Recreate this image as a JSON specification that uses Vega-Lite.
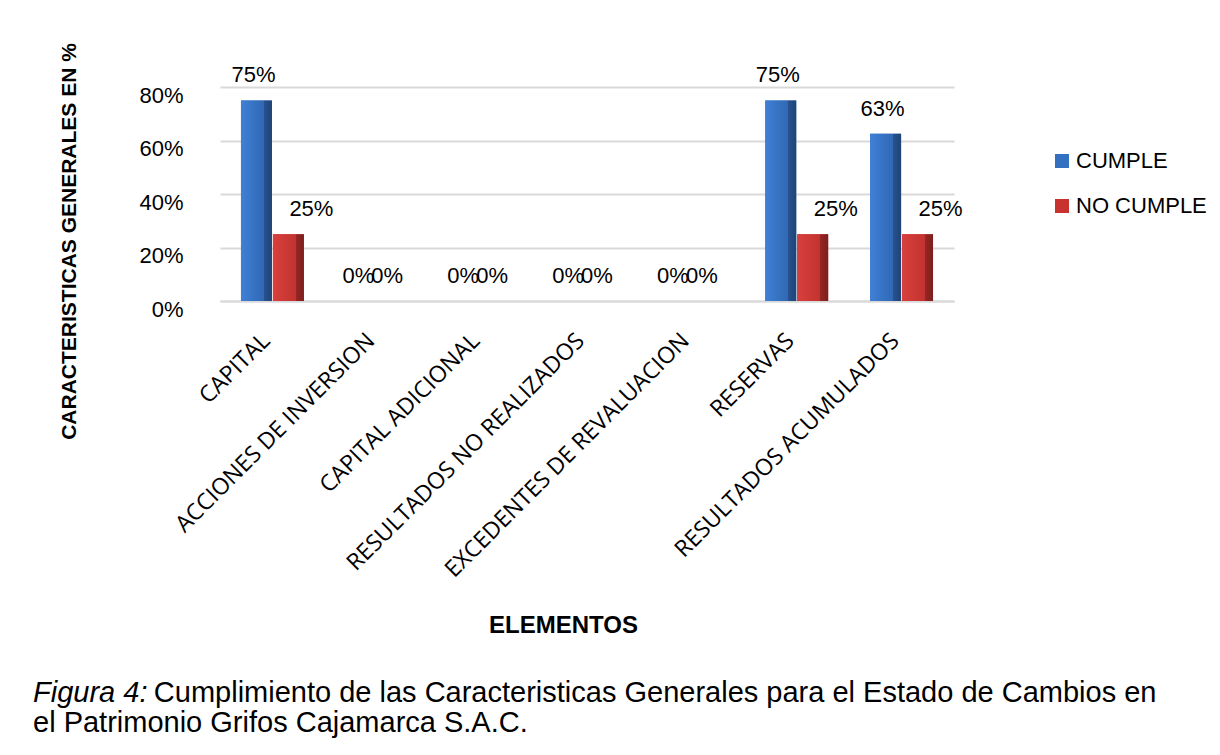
{
  "$schema": "https://vega.github.io/schema/vega-lite/v6.json",
  "width": 734,
  "height": 214,
  "background": "white",
  "autosize": {"type": "none"},
  "padding": {"left": 220, "top": 87, "right": 266, "bottom": 454},
  "data": {
    "values": [
      {"elemento": "CAPITAL", "serie": "CUMPLE", "valor": 0.75},
      {"elemento": "CAPITAL", "serie": "NO CUMPLE", "valor": 0.25},
      {"elemento": "ACCIONES DE INVERSION", "serie": "CUMPLE", "valor": 0},
      {"elemento": "ACCIONES DE INVERSION", "serie": "NO CUMPLE", "valor": 0},
      {"elemento": "CAPITAL ADICIONAL", "serie": "CUMPLE", "valor": 0},
      {"elemento": "CAPITAL ADICIONAL", "serie": "NO CUMPLE", "valor": 0},
      {"elemento": "RESULTADOS NO REALIZADOS", "serie": "CUMPLE", "valor": 0},
      {"elemento": "RESULTADOS NO REALIZADOS", "serie": "NO CUMPLE", "valor": 0},
      {"elemento": "EXCEDENTES DE REVALUACION", "serie": "CUMPLE", "valor": 0},
      {"elemento": "EXCEDENTES DE REVALUACION", "serie": "NO CUMPLE", "valor": 0},
      {"elemento": "RESERVAS", "serie": "CUMPLE", "valor": 0.75},
      {"elemento": "RESERVAS", "serie": "NO CUMPLE", "valor": 0.25},
      {"elemento": "RESULTADOS ACUMULADOS", "serie": "CUMPLE", "valor": 0.625},
      {"elemento": "RESULTADOS ACUMULADOS", "serie": "NO CUMPLE", "valor": 0.25}
    ]
  },
  "title": {
    "text": "Figura 4:",
    "subtitle": ["\u200b\u00a0\u00a0\u00a0\u00a0\u00a0\u00a0\u00a0\u00a0\u00a0\u00a0\u00a0\u00a0\u00a0\u00a0\u00a0Cumplimiento de las Caracteristicas Generales para el Estado de Cambios en", "el Patrimonio Grifos Cajamarca S.A.C."],
    "orient": "bottom",
    "anchor": "start",
    "frame": "bounds",
    "font": "Liberation Sans",
    "fontSize": 29,
    "fontStyle": "italic",
    "fontWeight": "normal",
    "color": "black",
    "subtitleFont": "Liberation Sans",
    "subtitleFontSize": 29,
    "subtitleColor": "black",
    "subtitleLineHeight": 30,
    "subtitlePadding": -29,
    "offset": 42,
    "dx": -25
  },
  "encoding": {
    "x": {
      "field": "elemento",
      "type": "nominal",
      "sort": ["CAPITAL", "ACCIONES DE INVERSION", "CAPITAL ADICIONAL", "RESULTADOS NO REALIZADOS", "EXCEDENTES DE REVALUACION", "RESERVAS", "RESULTADOS ACUMULADOS"],
      "scale": {"paddingInner": 0.4, "paddingOuter": 0.2},
      "axis": {
        "title": "ELEMENTOS",
        "titleFont": "Liberation Sans",
        "titleFontWeight": "bold",
        "titleFontSize": 24,
        "titleColor": "black",
        "titleX": 343,
        "titleY": 331,
        "titleBaseline": "alphabetic",
        "labelAngle": -45,
        "labelFont": "Open Sans",
        "labelFontSize": 23,
        "labelColor": "black",
        "labelPadding": 28,
        "labelOffset": -14,
        "ticks": false,
        "domainColor": "#d9d9d9",
        "domainWidth": 2,
        "labelLimit": 400
      }
    },
    "xOffset": {"field": "serie", "type": "nominal", "scale": {"paddingInner": 0.03}},
    "y": {
      "field": "valor",
      "type": "quantitative",
      "scale": {"domain": [0, 0.8]},
      "axis": {
        "title": "CARACTERISTICAS GENERALES EN %",
        "titleFont": "Liberation Sans",
        "titleFontWeight": "bold",
        "titleFontSize": 21,
        "titleColor": "black",
        "titleX": -145,
        "titleY": 154,
        "titleBaseline": "alphabetic",
        "values": [0, 0.2, 0.4, 0.6, 0.8],
        "format": ".0%",
        "labelFont": "Liberation Sans",
        "labelFontSize": 22,
        "labelColor": "black",
        "labelPadding": 37,
        "labelOffset": 8,
        "ticks": false,
        "domain": false,
        "gridColor": "#d9d9d9",
        "gridWidth": 2
      }
    }
  },
  "layer": [
    {
      "mark": {"type": "bar"},
      "encoding": {
        "color": {
          "field": "serie",
          "type": "nominal",
          "scale": {"domain": ["CUMPLE", "NO CUMPLE"], "range": ["#3470c0", "#c8322f"]},
          "legend": {
            "title": null,
            "orient": "none",
            "legendX": 831,
            "legendY": 63,
            "symbolType": "square",
            "symbolSize": 196,
            "symbolStrokeWidth": 0,
            "labelFont": "Liberation Sans",
            "labelFontSize": 22,
            "labelColor": "black",
            "labelOffset": 3,
            "rowPadding": 23
          }
        }
      }
    },
    {
      "transform": [{"filter": "datum.serie === 'CUMPLE'"}],
      "mark": {
        "type": "bar",
        "color": {
          "gradient": "linear", "x1": 0, "x2": 1, "y1": 0, "y2": 0,
          "stops": [
            {"offset": 0, "color": "#3f80d6"},
            {"offset": 0.74, "color": "#3068b4"},
            {"offset": 0.75, "color": "#27528f"},
            {"offset": 1, "color": "#1f4476"}
          ]
        }
      }
    },
    {
      "transform": [{"filter": "datum.serie === 'NO CUMPLE'"}],
      "mark": {
        "type": "bar",
        "color": {
          "gradient": "linear", "x1": 0, "x2": 1, "y1": 0, "y2": 0,
          "stops": [
            {"offset": 0, "color": "#d8403c"},
            {"offset": 0.74, "color": "#c23330"},
            {"offset": 0.75, "color": "#962624"},
            {"offset": 1, "color": "#7c1f1d"}
          ]
        }
      }
    },
    {
      "transform": [{"filter": "datum.serie === 'CUMPLE'"}],
      "mark": {"type": "text", "baseline": "alphabetic", "dy": -18, "dx": -3, "font": "Liberation Sans", "fontSize": 22, "color": "black"},
      "encoding": {"text": {"field": "valor", "type": "quantitative", "format": ".0%"}}
    },
    {
      "transform": [{"filter": "datum.serie === 'NO CUMPLE' && datum.valor > 0"}],
      "mark": {"type": "text", "baseline": "alphabetic", "dy": -18, "dx": 23, "font": "Liberation Sans", "fontSize": 22, "color": "black"},
      "encoding": {"text": {"field": "valor", "type": "quantitative", "format": ".0%"}}
    },
    {
      "transform": [{"filter": "datum.serie === 'NO CUMPLE' && datum.valor == 0"}],
      "mark": {"type": "text", "baseline": "alphabetic", "dy": -18, "dx": -6, "font": "Liberation Sans", "fontSize": 22, "color": "black"},
      "encoding": {"text": {"field": "valor", "type": "quantitative", "format": ".0%"}}
    }
  ],
  "config": {
    "view": {"stroke": null}
  }
}
